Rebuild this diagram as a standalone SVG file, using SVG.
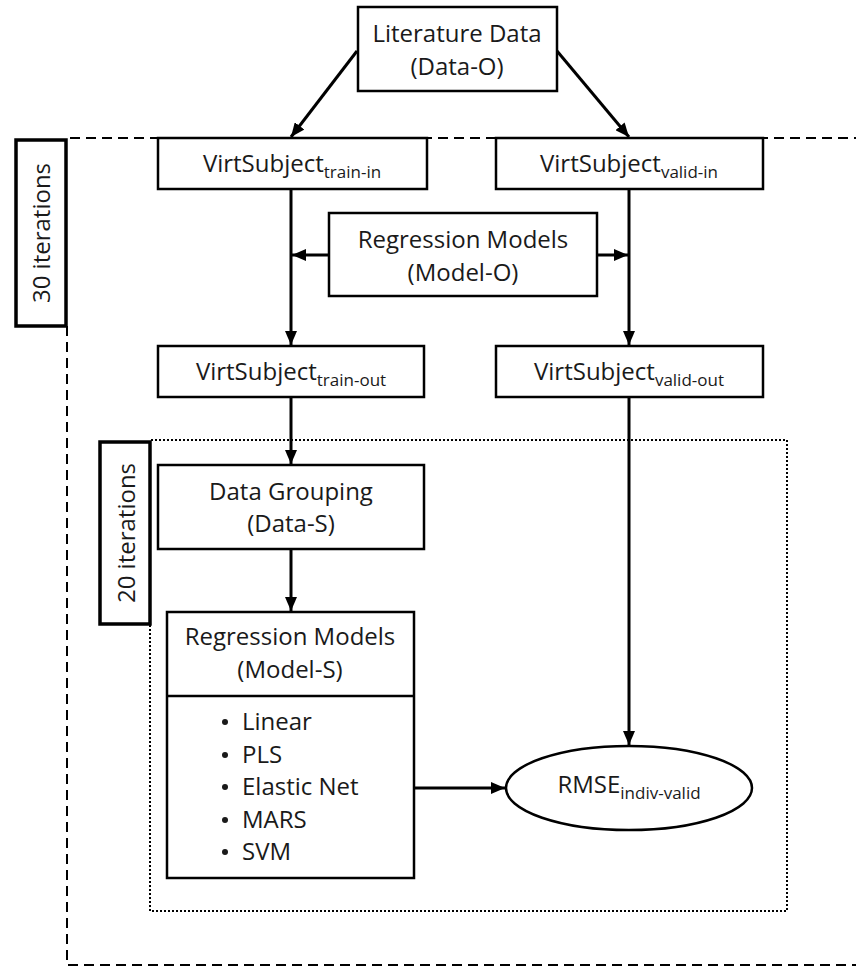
<svg xmlns="http://www.w3.org/2000/svg" width="856" height="967" viewBox="0 0 856 967">
<style>
.box{fill:#fff;stroke:#000;stroke-width:2.5}
.itbox{fill:#fff;stroke:#000;stroke-width:3.5}
.t{font-family:"Open Sans","Liberation Sans",sans-serif;font-size:24px;fill:#1a1a1a;text-anchor:middle}
.l{font-family:"Open Sans","Liberation Sans",sans-serif;font-size:24px;fill:#1a1a1a}
.sub{font-size:17px}
.con{fill:none;stroke:#000;stroke-width:3}
.dash{fill:none;stroke:#000;stroke-width:2;stroke-dasharray:10 6}
.dot{fill:none;stroke:#000;stroke-width:2;stroke-dasharray:2 2}
</style>
<defs>
<marker id="ah" markerUnits="userSpaceOnUse" markerWidth="14" markerHeight="12" refX="14" refY="6" orient="auto">
<path d="M0,0 L14,6 L0,12 z" fill="#000"/>
</marker>
</defs>
<g id="loops">
<path class="dash" d="M70,138 H870 M67,326 V965 H870"/>
<path class="dot" d="M151,440 H787 V911 H150 V624"/>
</g>
<g id="iter30">
<rect class="itbox" x="16" y="140" width="50" height="186"/>
<text class="t" transform="translate(50,233) rotate(-90)">30 iterations</text>
</g>
<g id="iter20">
<rect class="itbox" x="100" y="442" width="50" height="182"/>
<text class="t" transform="translate(135,533) rotate(-90)">20 iterations</text>
</g>
<g id="connectors">
<line class="con" x1="357" y1="51" x2="291" y2="137" marker-end="url(#ah)"/>
<line class="con" x1="557" y1="51" x2="629" y2="137" marker-end="url(#ah)"/>
<line class="con" x1="291" y1="189" x2="291" y2="345" marker-end="url(#ah)"/>
<line class="con" x1="629" y1="189" x2="629" y2="345" marker-end="url(#ah)"/>
<line class="con" x1="329" y1="255" x2="292" y2="255" marker-end="url(#ah)"/>
<line class="con" x1="597" y1="255" x2="628" y2="255" marker-end="url(#ah)"/>
<line class="con" x1="291" y1="397" x2="291" y2="464" marker-end="url(#ah)"/>
<line class="con" x1="291" y1="549" x2="291" y2="611" marker-end="url(#ah)"/>
<line class="con" x1="629" y1="397" x2="629" y2="745" marker-end="url(#ah)"/>
<line class="con" x1="414" y1="788" x2="505" y2="788" marker-end="url(#ah)"/>
</g>
<g id="literature">
<rect class="box" x="358" y="7" width="199" height="84"/>
<text class="t" x="457" y="42">Literature Data</text>
<text class="t" x="457" y="75">(Data-O)</text>
</g>
<g id="train-in">
<rect class="box" x="158" y="138" width="269" height="51"/>
<text class="t" x="292" y="172">VirtSubject<tspan class="sub" dy="6">train-in</tspan></text>
</g>
<g id="valid-in">
<rect class="box" x="496" y="138" width="267" height="51"/>
<text class="t" x="629" y="172">VirtSubject<tspan class="sub" dy="6">valid-in</tspan></text>
</g>
<g id="model-o">
<rect class="box" x="329" y="213" width="268" height="83"/>
<text class="t" x="463" y="248">Regression Models</text>
<text class="t" x="463" y="281">(Model-O)</text>
</g>
<g id="train-out">
<rect class="box" x="158" y="346" width="266" height="51"/>
<text class="t" x="291" y="380">VirtSubject<tspan class="sub" dy="6">train-out</tspan></text>
</g>
<g id="valid-out">
<rect class="box" x="496" y="346" width="267" height="51"/>
<text class="t" x="629" y="380">VirtSubject<tspan class="sub" dy="6">valid-out</tspan></text>
</g>
<g id="data-s">
<rect class="box" x="158" y="465" width="266" height="84"/>
<text class="t" x="291" y="500">Data Grouping</text>
<text class="t" x="291" y="532">(Data-S)</text>
</g>
<g id="model-s">
<rect class="box" x="167" y="612" width="247" height="266"/>
<line class="box" x1="167" y1="696" x2="414" y2="696"/>
<text class="t" x="290" y="645">Regression Models</text>
<text class="t" x="290" y="678">(Model-S)</text>
<g fill="#1a1a1a">
<circle cx="225" cy="722" r="3"/>
<circle cx="225" cy="755" r="3"/>
<circle cx="225" cy="787" r="3"/>
<circle cx="225" cy="820" r="3"/>
<circle cx="225" cy="852" r="3"/>
</g>
<text class="l" x="242" y="730">Linear</text>
<text class="l" x="242" y="763">PLS</text>
<text class="l" x="242" y="795">Elastic Net</text>
<text class="l" x="242" y="828">MARS</text>
<text class="l" x="242" y="860">SVM</text>
</g>
<g id="rmse">
<ellipse class="box" cx="629" cy="788" rx="123" ry="42"/>
<text class="t" x="629" y="793">RMSE<tspan class="sub" dy="6">indiv-valid</tspan></text>
</g>
</svg>
